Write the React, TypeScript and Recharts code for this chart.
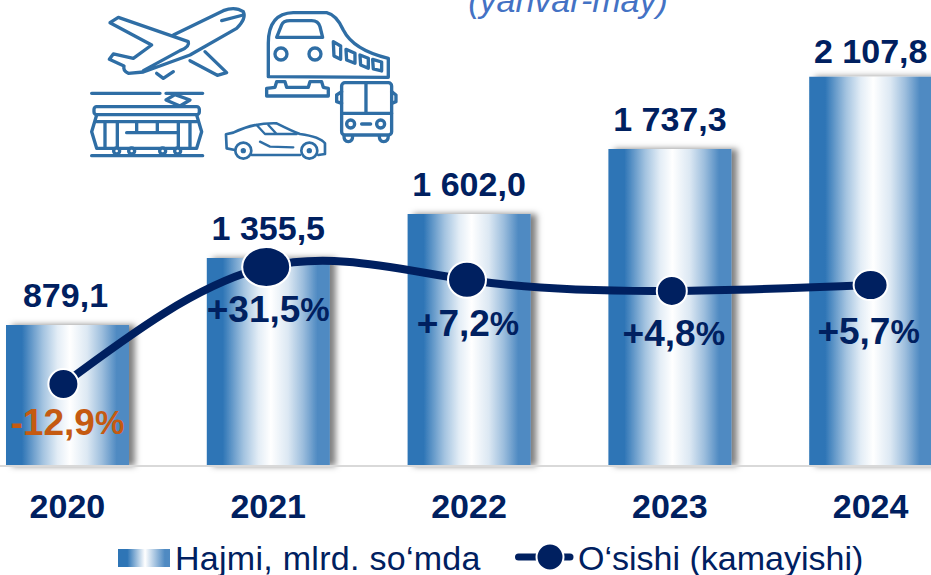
import React from "react";
import { ComposedChart, Bar, Line, XAxis, YAxis, LabelList, Legend } from "recharts";

const years = ["2020", "2021", "2022", "2023", "2024"];
// Bar heights as drawn in the picture (the picture's bars are not proportional to their printed labels)
const drawnVolume = [764, 1127, 1365, 1717, 2107.8];
const volumeLabels = ["879,1", "1 355,5", "1 602,0", "1 737,3", "2 107,8"];
// Line points as drawn: the line's points sit slightly off the bar centres
const drawnGrowth = [-12.9, 9.1, 6.7, 4.6, 5.7];
const drawnLineYear = [2019.98, 2020.99, 2021.99, 2023.01, 2024.0];
const growthLabels = ["-12,9", "+31,5", "+7,2", "+4,8", "+5,7"];
const growthNegative = [true, false, false, false, false];

const NAVY = "#002060";
const ORANGE = "#C55A11";
const BLUE = "#2E75B6";
const ICON = "#2F6EA5";
const FONT = "'Liberation Sans', Arial, sans-serif";

// Per-point styling
const DOT_RX = [15, 24, 19, 15, 17];
const DOT_RY = [15, 20, 18, 15, 15];
const GROWTH_LABEL_DX = [4, 2, 1, 2, -2];
const GROWTH_LABEL_DY = [38, 42, 43, 42, 46];
const VOLUME_LABEL_DX = [-2, 0, 0, 0, 0];
const VOLUME_LABEL_RAISE = [18, 18, 18, 18, 14];

const data = years.map((year, i) => ({
  year,
  lineYear: drawnLineYear[i],
  volume: drawnVolume[i],
  volumeLabel: volumeLabels[i],
  growth: drawnGrowth[i],
  growthLabel: growthLabels[i],
}));

function GrowthDot(props: any) {
  const { cx, cy, index } = props;
  return <ellipse key={index} cx={cx} cy={cy} rx={DOT_RX[index]} ry={DOT_RY[index]} fill={NAVY} stroke="#fff" strokeWidth={2} />;
}

function GrowthLabel(props: any) {
  const { x, y, index, value } = props;
  return (
    <text x={x + GROWTH_LABEL_DX[index]} y={y + GROWTH_LABEL_DY[index]} textAnchor="middle" dominantBaseline="central" fontFamily={FONT} fontWeight={700} fill={growthNegative[index] ? ORANGE : NAVY}>
      <tspan fontSize={37}>{value}</tspan>
      <tspan fontSize={33}>%</tspan>
    </text>
  );
}

function VolumeLabel(props: any) {
  const { x, y, width, index, value } = props;
  return (
    <text x={x + width / 2 + VOLUME_LABEL_DX[index]} y={y - VOLUME_LABEL_RAISE[index]} textAnchor="middle" fontFamily={FONT} fontSize={34} fontWeight={700} fill={NAVY}>
      {value}
    </text>
  );
}

function LegendContent() {
  const text: React.CSSProperties = { fontFamily: FONT, fontSize: 34, color: NAVY, lineHeight: "34px", whiteSpace: "nowrap" };
  return (
    <div style={{ position: "relative", height: 34, width: 931 }}>
      <div style={{ position: "absolute", left: 118, top: 8, width: 52, height: 18, background: `linear-gradient(90deg, ${BLUE} 0%, ${BLUE} 18%, #ffffff 52%, #4F8AC2 90%)` }} />
      <div style={{ position: "absolute", left: 175, top: 0, letterSpacing: 0.28, ...text }}>Hajmi, mlrd. so‘mda</div>
      <svg style={{ position: "absolute", left: 515, top: 2 }} width={60} height={30}>
        <line x1={3.5} y1={14} x2={55} y2={14} stroke={NAVY} strokeWidth={7} strokeLinecap="round" />
        <circle cx={35} cy={14} r={13.5} fill={NAVY} stroke="#fff" strokeWidth={2} />
      </svg>
      <div style={{ position: "absolute", left: 578, top: 0, ...text }}>O‘sishi (kamayishi)</div>
    </div>
  );
}

function TransportIcons() {
  return (
    <g transform="translate(80,0) scale(0.3333)" fill="none" stroke={ICON} strokeWidth={10} strokeLinecap="round" strokeLinejoin="round">
      {/* plane */}
      <path d="M280 105 L430 32 Q465 18 490 35 Q500 55 470 85 L330 165 L190 216 L145 220 Q128 212 132 198 L88 178 L100 162 L160 175 L215 135 L90 68 L115 52 L325 125 Q330 140 300 152 L190 212" />
      <path d="M425 62 L490 45 M375 155 L440 218 L412 226 L330 182 M230 220 L250 235 L280 215" />
      {/* train */}
      <path d="M565 230 L565 130 Q565 40 640 38 L740 38 Q770 45 790 90 Q820 150 925 175 L925 232 Z" />
      <path d="M590 112 L605 75 Q610 62 630 62 L695 62 Q715 62 720 80 L728 112 Z" />
      <circle cx={603} cy={162} r={18} />
      <circle cx={705} cy={162} r={18} />
      <path d="M760 125 L782 138 L782 178 L762 168 Z M798 148 L825 160 L825 190 L800 180 Z M840 165 L865 175 L865 205 L842 195 Z M878 178 L905 186 L905 213 L880 207 Z" />
      <path d="M560 288 L560 265 L585 262 L590 245 L615 245 L620 262 L685 262 L690 245 L725 245 L730 262 L745 265 L745 288 Z" />
      {/* bus */}
      <rect x={785} y={248} width={150} height={157} rx={10} />
      <path d="M858 248 L858 340 M785 340 L935 340 M845 372 L872 372" />
      <circle cx={812} cy={372} r={12} />
      <circle cx={902} cy={372} r={12} />
      <path d="M792 408 Q792 425 805 425 Q818 425 818 408 M898 408 Q898 425 911 425 Q925 425 925 408" />
      <path d="M785 275 L770 285 L770 305 L785 310 M935 275 L948 285 L948 305 L935 310" />
      {/* tram */}
      <path d="M35 280 L240 280 M258 280 L368 280 M258 300 L285 284 L330 300 L300 318 Z" />
      <rect x={42} y={320} width={316} height={24} rx={8} />
      <path d="M50 345 L35 395 L50 445 L350 445 L365 395 L350 345" />
      <path d="M50 365 L350 365 M75 365 L75 440 M112 365 L112 440 M170 365 L170 398 M232 365 L232 398 M295 365 L295 440 M330 365 L330 440 M140 398 L295 398 M35 467 L368 467" />
      <circle cx={110} cy={453} r={9} fill="#fff" />
      <circle cx={155} cy={453} r={9} fill="#fff" />
      <circle cx={248} cy={453} r={9} fill="#fff" />
      <circle cx={293} cy={453} r={9} fill="#fff" />
      {/* car */}
      <path d="M465 450 L440 445 L438 403 L460 398 Q520 368 590 370 Q640 395 660 402 Q720 410 735 430 L735 462 L715 465 M515 465 L660 465" strokeWidth={8} />
      <path d="M530 375 L555 402 L650 402 M565 375 L590 402 M540 425 L570 440 L640 442" strokeWidth={7} />
      <circle cx={490} cy={452} r={24} strokeWidth={8} />
      <circle cx={490} cy={452} r={6} fill={ICON} strokeWidth={4} />
      <circle cx={688} cy={452} r={24} strokeWidth={8} />
      <circle cx={688} cy={452} r={6} fill={ICON} strokeWidth={4} />
    </g>
  );
}

export default function App() {
  return (
    <div style={{ position: "absolute", left: 0, top: 0, width: 931, height: 575, overflow: "hidden", background: "#fff" }}>
      <ComposedChart width={931} height={575} data={data} margin={{ top: 10, right: -40, bottom: 45, left: -33 }}>
        <defs>
          <linearGradient id="barGrad" x1="0" y1="0" x2="1" y2="0">
            <stop offset="0%" stopColor={BLUE} />
            <stop offset="13%" stopColor={BLUE} />
            <stop offset="30%" stopColor="#A3C3E0" />
            <stop offset="42%" stopColor="#E3EDF6" />
            <stop offset="52%" stopColor="#FFFFFF" />
            <stop offset="66%" stopColor="#DCE8F3" />
            <stop offset="78%" stopColor="#9DBEDD" />
            <stop offset="90%" stopColor="#4F8AC2" />
            <stop offset="100%" stopColor="#4F8AC2" />
          </linearGradient>
          <filter id="barShadow" x="-10%" y="-5%" width="125%" height="110%">
            <feDropShadow dx={6} dy={0} stdDeviation={3} floodColor="#000" floodOpacity={0.5} />
          </filter>
        </defs>
        <XAxis
          dataKey="year"
          axisLine={{ stroke: "#D9D9D9", strokeWidth: 2 }}
          tickLine={false}
          tick={{ fontFamily: FONT, fontSize: 34, fontWeight: 700, fill: NAVY }}
          tickMargin={22}
          height={30}
          interval={0}
        />
        <XAxis xAxisId="line" dataKey="lineYear" type="number" domain={[2019.5, 2024.5]} hide />
        <YAxis yAxisId="volume" hide domain={[0, 2470]} />
        <YAxis yAxisId="growth" hide orientation="right" domain={[-28.3, 57.4]} />
        <Bar yAxisId="volume" dataKey="volume" barSize={123} fill="url(#barGrad)" filter="url(#barShadow)" isAnimationActive={false}>
          <LabelList dataKey="volumeLabel" content={VolumeLabel} />
        </Bar>
        <Line
          xAxisId="line"
          yAxisId="growth"
          dataKey="growth"
          type="natural"
          stroke={NAVY}
          strokeWidth={8}
          dot={GrowthDot}
          activeDot={false}
          isAnimationActive={false}
        >
          <LabelList dataKey="growthLabel" content={GrowthLabel} />
        </Line>
        <Legend verticalAlign="bottom" content={LegendContent} wrapperStyle={{ left: 0, bottom: 0, width: 931, height: 34 }} />
        <TransportIcons />
        <text x={568} y={12} textAnchor="middle" fontFamily={FONT} fontSize={34} fontStyle="italic" fill="#4472C4">(yanvar-may)</text>
      </ComposedChart>
    </div>
  );
}
